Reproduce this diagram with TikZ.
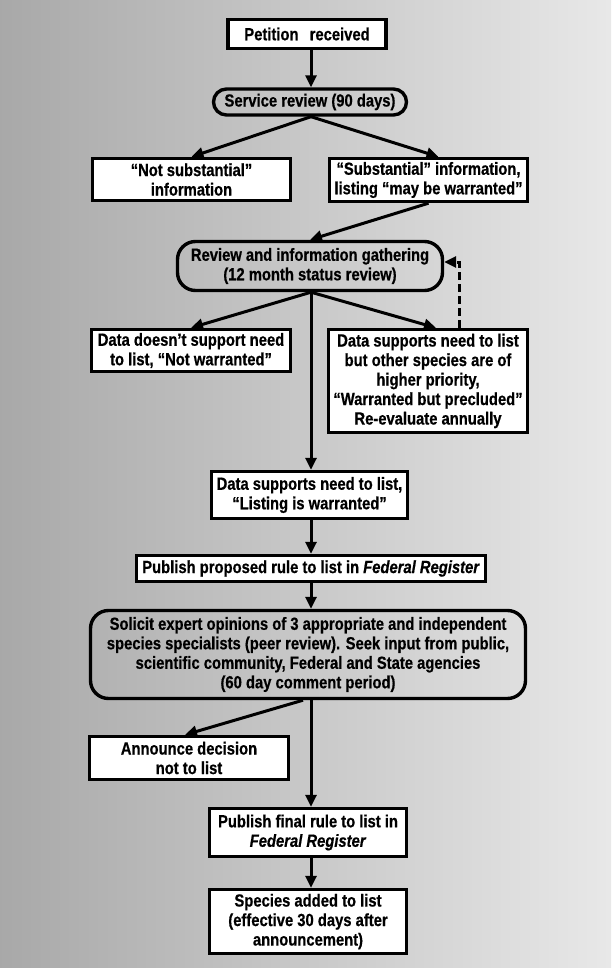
\documentclass[tikz,border=0pt]{standalone}
\usepackage{fontspec}
\setmainfont[FakeStretch=0.84, BoldFeatures={FakeBold=0.6}, BoldItalicFeatures={FakeBold=0.6}]{Liberation Sans}
\usetikzlibrary{arrows.meta,calc}
\begin{document}
\begin{tikzpicture}[x=1pt,y=-1pt,
  box/.style={draw, line width=3.4pt, fill=white, inner sep=0pt, align=center,
    font=\fontsize{17.6}{19.5}\selectfont\bfseries},
  rbox/.style={box, fill=none, rounded corners=18pt},
  arr/.style={line width=3pt, -{Triangle[length=12pt,width=11pt]}},
  dasharr/.style={arr, dash pattern=on 8pt off 4pt},
]
\useasboundingbox (0,0) rectangle (611,968);
\shade[left color=black!34, right color=black!9] (0,0) rectangle (611,968);

\coordinate (mx) at (311,0);

\node[box, minimum width=158, minimum height=29] (pet) at (307,34) {Petition\hspace{0.4em} received};
\node[rbox, rounded corners=13pt, minimum width=193, minimum height=26] (svc) at (310,102) {Service review (90 days)};
\node[box, minimum width=198, minimum height=42] (ns) at (191.5,179.5) {“Not substantial”\\information};
\node[box, minimum width=198, minimum height=43] (sub) at (428.5,180) {“Substantial” information,\\listing “may be warranted”};
\node[rbox, minimum width=265, minimum height=49] (rev) at (310,266) {Review and information gathering\\(12 month status review)};
\node[box, minimum width=199, minimum height=42] (nw) at (191,350.5) {Data doesn’t support need\\to list, “Not warranted”};
\node[box, minimum width=199, minimum height=103] (wbp) at (428,381) {Data supports need to list\\but other species are of\\higher priority,\\“Warranted but precluded”\\Re-evaluate annually};
\node[box, minimum width=196, minimum height=47] (lw) at (309.5,495) {Data supports need to list,\\“Listing is warranted”};
\node[box, minimum width=349, minimum height=26] (ppr) at (311,568.5) {Publish proposed rule to list in \textit{Federal Register}};
\node[rbox, minimum width=435, minimum height=88] (sol) at (308,654.5) {Solicit expert opinions of 3 appropriate and independent\\species specialists (peer review). Seek input from public,\\scientific community, Federal and State agencies\\(60 day comment period)};
\node[box, minimum width=199, minimum height=43] (ann) at (189,758) {Announce decision\\not to list};
\node[box, minimum width=197, minimum height=48] (pfr) at (308,832.5) {Publish final rule to list in\\\textit{Federal Register}};
\node[box, minimum width=197, minimum height=64] (spa) at (308,921.5) {Species added to list\\(effective 30 days after\\announcement)};

\draw[arr] (pet.south -| mx) -- (svc.north -| mx);
\draw[arr] (svc.south -| mx) -- (ns.north);
\draw[arr] (svc.south -| mx) -- ($(sub.north)+(10,0)$);
\draw[arr] (sub.south) -- (rev.north);
\draw[arr] (rev.south -| mx) -- (nw.north);
\draw[arr] (rev.south -| mx) -- ($(wbp.north)+(8,0)$);
\draw[arr] (rev.south -| mx) -- (lw.north -| mx);
\coordinate (dtop) at (459,262);
\draw[dasharr] ($(wbp.north)+(31,0)$) |- (rev.east |- dtop);
\draw[arr] (lw.south -| mx) -- (ppr.north -| mx);
\draw[arr] (ppr.south -| mx) -- (sol.north -| mx);
\draw[arr] ($(sol.south)+(-5,0)$) -- ($(ann.north)+(-4,0)$);
\draw[arr] (sol.south -| mx) -- (pfr.north -| mx);
\draw[arr] (pfr.south -| mx) -- (spa.north -| mx);
\end{tikzpicture}
\end{document}
